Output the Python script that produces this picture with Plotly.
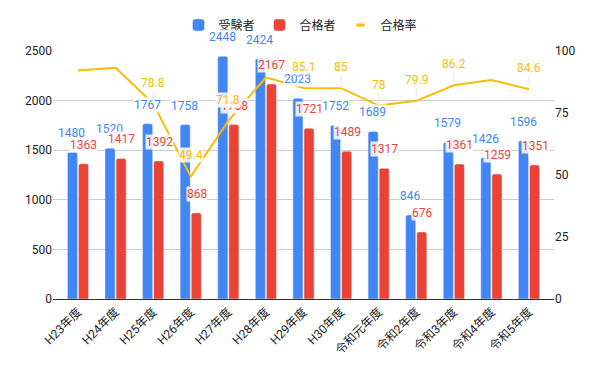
import plotly.graph_objects as go

categories = ["H23年度", "H24年度", "H25年度", "H26年度", "H27年度", "H28年度", "H29年度",
              "H30年度", "令和元年度", "令和2年度", "令和3年度", "令和4年度", "令和5年度"]
examinees = [1480, 1520, 1767, 1758, 2448, 2424, 2023, 1752, 1689, 846, 1579, 1426, 1596]
passers = [1363, 1417, 1392, 868, 1758, 2167, 1721, 1489, 1317, 676, 1361, 1259, 1351]
pass_rate = [92.1, 93.2, 78.8, 49.4, 71.8, 89.4, 85.1, 85.0, 78.0, 79.9, 86.2, 88.3, 84.6]
rate_labels = ["", "", "78.8", "49.4", "71.8", "", "85.1", "85", "78", "79.9", "86.2", "", "84.6"]

BLUE = "#4285F4"
RED = "#EA4335"
YELLOW = "#FBBC04"
FONT = "Roboto, 'Noto Sans CJK JP', sans-serif"

fig = go.Figure()
fig.add_trace(go.Bar(x=categories, y=examinees, name="受験者", marker_color=BLUE,
                     yaxis="y"))
fig.add_trace(go.Bar(x=categories, y=passers, name="合格者", marker_color=RED,
                     yaxis="y"))
fig.add_trace(go.Scatter(x=categories, y=pass_rate, name="合格率", mode="lines",
                         line=dict(color=YELLOW, width=2), yaxis="y2", showlegend=False))
# legend-only entry with a short thick line symbol
fig.add_trace(go.Scatter(x=[categories[0]], y=[None], name="合格率", mode="markers",
                         marker=dict(symbol="line-ew-open", size=6, color=YELLOW,
                                     line=dict(color=YELLOW, width=3)),
                         yaxis="y2"))

annotations = []
for c, v in zip(categories, examinees):
    annotations.append(dict(x=c, y=v, xref="x", yref="y", text=str(v), showarrow=False,
                            xshift=-6, yshift=19, font=dict(color=BLUE, size=12, family=FONT),
                            bgcolor="rgba(255,255,255,0.85)", borderpad=0))
for c, v in zip(categories, passers):
    annotations.append(dict(x=c, y=v, xref="x", yref="y", text=str(v), showarrow=False,
                            xshift=6, yshift=19, font=dict(color=RED, size=12, family=FONT),
                            bgcolor="rgba(255,255,255,0.85)", borderpad=0))
for c, v, t in zip(categories, pass_rate, rate_labels):
    if t:
        annotations.append(dict(x=c, y=v, xref="x", yref="y2", text=t, showarrow=True,
                                arrowhead=0, arrowwidth=1, arrowcolor="#e6e6e6",
                                ax=0, ay=-21, standoff=2,
                                font=dict(color=YELLOW, size=12, family=FONT),
                                bgcolor="rgba(255,255,255,0.85)", borderpad=0))

fig.update_layout(
    width=600, height=371,
    margin=dict(l=53, r=46, t=51, b=72, autoexpand=False),
    paper_bgcolor="white", plot_bgcolor="white",
    font=dict(family=FONT, size=12, color="#222"),
    barmode="group", bargap=0.41, bargroupgap=0.09, barcornerradius=2,
    legend=dict(orientation="h", x=0.494, xanchor="center", y=1.105, yanchor="middle",
                font=dict(size=12, color="#222"), itemwidth=30),
    xaxis=dict(type="category", tickangle=-45, showgrid=False, showline=True,
               range=[-0.665, len(categories) - 0.335],
               linecolor="#333", linewidth=1, ticks="", automargin=False,
               tickfont=dict(size=12, color="#222")),
    yaxis=dict(range=[0, 2500], dtick=500, showgrid=True, gridcolor="#cccccc",
               zeroline=False, showline=False, ticks="", automargin=False,
               tickfont=dict(size=12, color="#222")),
    yaxis2=dict(range=[0, 100], dtick=25, overlaying="y", side="right", showgrid=False,
                zeroline=False, showline=False, ticks="", automargin=False,
                tickfont=dict(size=12, color="#222")),
    annotations=annotations,
)

fig.write_html("out.html", post_script="document.body.style.margin='0';",
               config={"displayModeBar": False})
